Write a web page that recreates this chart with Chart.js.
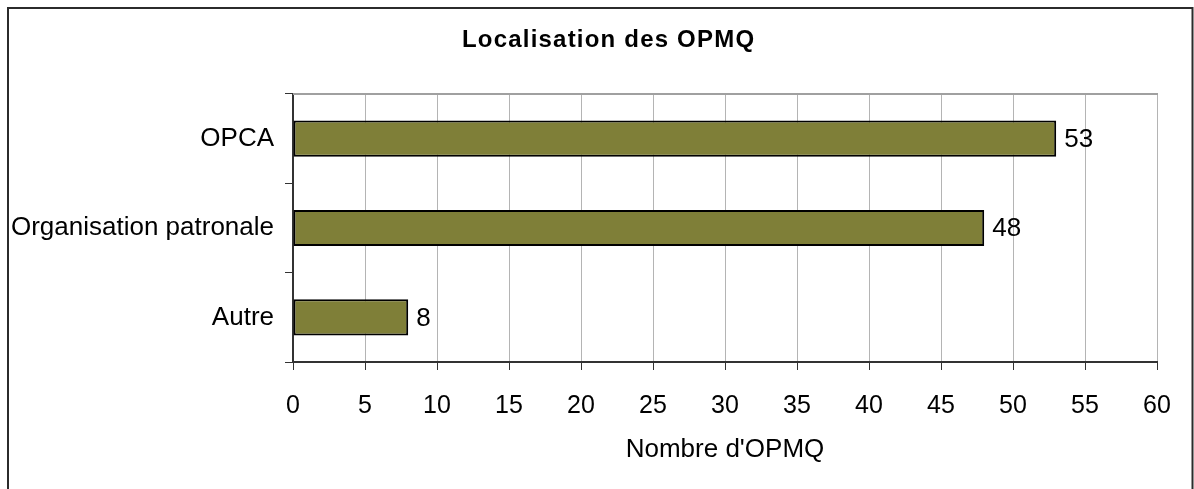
<!DOCTYPE html>
<html>
<head>
<meta charset="utf-8">
<script src="https://cdn.jsdelivr.net/npm/chart.js@4/dist/chart.umd.min.js"></script>
<style>
html,body{margin:0;padding:0;background:#fff;}
#wrap{width:1194px;height:489px;position:relative;}
</style>
</head>
<body>
<div id="wrap"><canvas id="c" width="1194" height="489"></canvas></div>
<script>
const chartTitle = "Localisation des OPMQ";
const categories = ["OPCA", "Organisation patronale", "Autre"];
const values = [53, 48, 8];
const xTitle = "Nombre d'OPMQ";
const xMin = 0, xMax = 60, xStep = 5;

const FONT = "'Liberation Sans', Arial, sans-serif";

const framePlugin = {
  id: 'frame',
  beforeDraw(chart) {
    const ctx = chart.ctx;
    ctx.save();
    ctx.fillStyle = '#fff';
    ctx.fillRect(0, 0, chart.width, chart.height);
    ctx.strokeStyle = '#2b2b2b';
    ctx.lineWidth = 2;
    ctx.strokeRect(8, 8, 1184.5, 500);
    ctx.restore();
  },
  afterDraw(chart) {
    const ctx = chart.ctx;
    const a = chart.chartArea;
    ctx.save();
    ctx.strokeStyle = '#a0a0a0';
    ctx.lineWidth = 2;
    ctx.beginPath();
    ctx.moveTo(a.left, a.top);
    ctx.lineTo(a.right + 1, a.top);
    ctx.stroke();
    ctx.fillStyle = '#000';
    ctx.font = "bold 24px " + FONT;
    ctx.letterSpacing = '1.2px';
    ctx.textAlign = 'left';
    ctx.textBaseline = 'alphabetic';
    ctx.fillText(chartTitle, 462, 47);
    ctx.restore();
  },
  afterDatasetsDraw(chart) {
    const ctx = chart.ctx;
    const meta = chart.getDatasetMeta(0);
    ctx.save();
    ctx.fillStyle = '#000';
    ctx.font = "26px " + FONT;
    ctx.textAlign = 'left';
    ctx.textBaseline = 'middle';
    meta.data.forEach((bar, i) => {
      ctx.fillText(String(values[i]), bar.x + 8, bar.y + 1);
    });
    ctx.restore();
  }
};

new Chart(document.getElementById('c'), {
  type: 'bar',
  data: {
    labels: categories,
    datasets: [{
      data: values,
      backgroundColor: '#7f7f38',
      borderColor: '#000',
      borderWidth: 2,
      borderSkipped: false,
      categoryPercentage: 1,
      barPercentage: 0.405
    }]
  },
  options: {
    indexAxis: 'y',
    responsive: false,
    animation: false,
    layout: { padding: { top: 94, right: 37, bottom: 0, left: 0 } },
    plugins: {
      legend: { display: false },
      tooltip: { enabled: false },
      title: { display: false }
    },
    scales: {
      x: {
        type: 'linear',
        min: xMin, max: xMax,
        ticks: { stepSize: xStep, color: '#000', font: { family: FONT, size: 25 }, padding: 21, maxRotation: 0 },
        grid: { color: '#b4b4b4', lineWidth: 1, tickColor: '#333', tickLength: 8, drawTicks: true },
        border: { color: '#333', width: 2 },
        title: { display: true, text: xTitle, color: '#000', font: { family: FONT, size: 26 }, padding: { top: 0, bottom: 24 } },
        afterFit(s) { s.height = 127; }
      },
      y: {
        type: 'category',
        ticks: { color: '#000', font: { family: FONT, size: 26 }, padding: 11 },
        grid: { offset: true, drawOnChartArea: false, drawTicks: true, tickLength: 8, color: '#333', tickColor: '#333' },
        border: { color: '#333', width: 2 },
        afterFit(s) { s.width = 293; }
      }
    }
  },
  plugins: [framePlugin]
});
</script>
</body>
</html>
